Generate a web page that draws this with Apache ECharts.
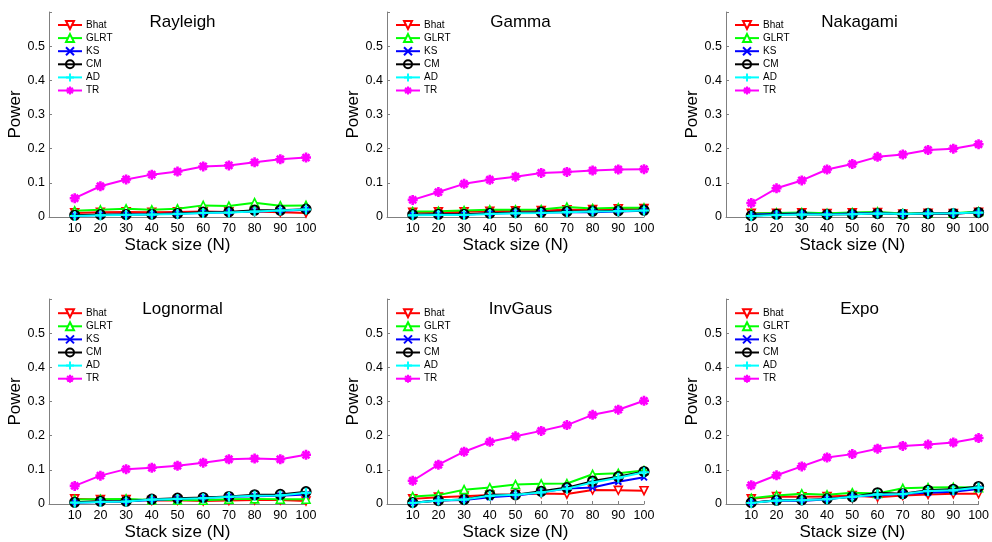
<!DOCTYPE html>
<html>
<head>
<meta charset="utf-8">
<script src="https://cdn.jsdelivr.net/npm/echarts@6/dist/echarts.min.js"></script>
<style>
html,body{margin:0;padding:0;background:#fff;}
#chart{width:992px;height:542px;}
</style>
</head>
<body>
<div id="chart"></div>
<script>
// ---------- data ----------
const stackSizes = [10, 20, 30, 40, 50, 60, 70, 80, 90, 100];
const methodNames = ['Bhat', 'GLRT', 'KS', 'CM', 'AD', 'TR'];
const panelTitles = ['Rayleigh', 'Gamma', 'Nakagami', 'Lognormal', 'InvGaus', 'Expo'];
const yTicks = [0, 0.1, 0.2, 0.3, 0.4, 0.5];
const xTicks = [10, 20, 30, 40, 50, 60, 70, 80, 90, 100];

// Rayleigh
const rayleighBhat = [0.012, 0.014, 0.015, 0.014, 0.015, 0.016, 0.015, 0.016, 0.014, 0.012];
const rayleighGLRT = [0.018, 0.021, 0.024, 0.021, 0.024, 0.034, 0.032, 0.042, 0.033, 0.034];
const rayleighKS   = [0.004, 0.006, 0.007, 0.008, 0.010, 0.012, 0.014, 0.016, 0.018, 0.021];
const rayleighCM   = [0.005, 0.007, 0.007, 0.008, 0.010, 0.014, 0.015, 0.020, 0.020, 0.023];
const rayleighAD   = [0.003, 0.005, 0.006, 0.007, 0.009, 0.012, 0.013, 0.016, 0.019, 0.022];
const rayleighTR   = [0.055, 0.090, 0.110, 0.124, 0.133, 0.148, 0.151, 0.160, 0.169, 0.174];

// Gamma
const gammaBhat = [0.014, 0.015, 0.015, 0.017, 0.018, 0.019, 0.021, 0.022, 0.024, 0.025];
const gammaGLRT = [0.016, 0.017, 0.019, 0.021, 0.021, 0.022, 0.029, 0.025, 0.027, 0.027];
const gammaKS   = [0.006, 0.007, 0.007, 0.010, 0.012, 0.013, 0.014, 0.014, 0.016, 0.018];
const gammaCM   = [0.007, 0.008, 0.008, 0.011, 0.013, 0.014, 0.016, 0.017, 0.018, 0.020];
const gammaAD   = [0.005, 0.006, 0.006, 0.009, 0.011, 0.012, 0.014, 0.016, 0.017, 0.019];
const gammaTR   = [0.050, 0.073, 0.097, 0.109, 0.118, 0.129, 0.132, 0.136, 0.139, 0.140];

// Nakagami
const nakagamiBhat = [0.011, 0.011, 0.012, 0.010, 0.012, 0.013, 0.009, 0.011, 0.010, 0.014];
const nakagamiGLRT = [0.010, 0.012, 0.013, 0.011, 0.013, 0.015, 0.010, 0.012, 0.011, 0.016];
const nakagamiKS   = [0.007, 0.009, 0.010, 0.008, 0.010, 0.011, 0.009, 0.010, 0.010, 0.013];
const nakagamiCM   = [0.004, 0.008, 0.008, 0.007, 0.008, 0.010, 0.008, 0.010, 0.010, 0.013];
const nakagamiAD   = [0.003, 0.006, 0.007, 0.007, 0.008, 0.010, 0.009, 0.010, 0.011, 0.013];
const nakagamiTR   = [0.041, 0.084, 0.107, 0.139, 0.155, 0.176, 0.183, 0.196, 0.200, 0.213];

// Lognormal
const lognormalBhat = [0.015, 0.013, 0.013, 0.010, 0.011, 0.009, 0.010, 0.012, 0.012, 0.009];
const lognormalGLRT = [0.013, 0.014, 0.015, 0.012, 0.012, 0.011, 0.014, 0.015, 0.014, 0.014];
const lognormalKS   = [0.004, 0.006, 0.007, 0.012, 0.015, 0.018, 0.021, 0.023, 0.024, 0.028];
const lognormalCM   = [0.005, 0.008, 0.008, 0.014, 0.017, 0.019, 0.022, 0.027, 0.028, 0.036];
const lognormalAD   = [0.004, 0.006, 0.007, 0.013, 0.015, 0.017, 0.021, 0.024, 0.025, 0.033];
const lognormalTR   = [0.053, 0.083, 0.102, 0.106, 0.112, 0.121, 0.131, 0.133, 0.131, 0.144];

// InvGaus
const invgausBhat = [0.015, 0.020, 0.023, 0.026, 0.028, 0.031, 0.029, 0.041, 0.040, 0.039];
const invgausGLRT = [0.022, 0.026, 0.042, 0.048, 0.057, 0.059, 0.060, 0.087, 0.090, 0.098];
const invgausKS   = [0.004, 0.010, 0.012, 0.020, 0.025, 0.034, 0.045, 0.048, 0.065, 0.078];
const invgausCM   = [0.004, 0.010, 0.013, 0.027, 0.027, 0.037, 0.048, 0.067, 0.080, 0.095];
const invgausAD   = [0.003, 0.010, 0.013, 0.024, 0.027, 0.034, 0.045, 0.063, 0.077, 0.093];
const invgausTR   = [0.068, 0.115, 0.153, 0.182, 0.198, 0.214, 0.231, 0.261, 0.276, 0.302];

// Expo
const expoBhat = [0.015, 0.022, 0.021, 0.022, 0.025, 0.020, 0.025, 0.028, 0.030, 0.030];
const expoGLRT = [0.017, 0.025, 0.030, 0.027, 0.033, 0.031, 0.046, 0.048, 0.049, 0.048];
const expoKS   = [0.004, 0.010, 0.009, 0.014, 0.022, 0.025, 0.030, 0.033, 0.036, 0.044];
const expoCM   = [0.004, 0.011, 0.012, 0.015, 0.021, 0.033, 0.030, 0.040, 0.043, 0.051];
const expoAD   = [0.003, 0.010, 0.011, 0.014, 0.021, 0.028, 0.029, 0.038, 0.040, 0.048];
const expoTR   = [0.055, 0.084, 0.110, 0.136, 0.146, 0.162, 0.170, 0.174, 0.180, 0.193];

const panelData = [
  [rayleighBhat, rayleighGLRT, rayleighKS, rayleighCM, rayleighAD, rayleighTR],
  [gammaBhat, gammaGLRT, gammaKS, gammaCM, gammaAD, gammaTR],
  [nakagamiBhat, nakagamiGLRT, nakagamiKS, nakagamiCM, nakagamiAD, nakagamiTR],
  [lognormalBhat, lognormalGLRT, lognormalKS, lognormalCM, lognormalAD, lognormalTR],
  [invgausBhat, invgausGLRT, invgausKS, invgausCM, invgausAD, invgausTR],
  [expoBhat, expoGLRT, expoKS, expoCM, expoAD, expoTR]
];

// ---------- styles ----------
const FONT = 'Liberation Sans, Arial, Helvetica, sans-serif';
const gridLefts = [49, 387, 726];
const gridTops = [12, 299];
const gridW = 257, gridH = 205;

const styles = [
  { color: '#ff0000', symbol: 'path://M0,0L10,0L5,9Z', size: 8, item: { color: '#fff', borderColor: '#ff0000', borderWidth: 1.6 } },
  { color: '#00ff00', symbol: 'path://M5,0L10,9L0,9Z', size: 8, item: { color: '#fff', borderColor: '#00ff00', borderWidth: 1.6 } },
  { color: '#0000ff', symbol: 'path://M0,0L10,10M10,0L0,10', size: 6, item: { color: 'none', borderColor: '#0000ff', borderWidth: 2 } },
  { color: '#000000', symbol: 'circle', size: 9, item: { color: 'none', borderColor: '#000000', borderWidth: 2.2 } },
  { color: '#00ffff', symbol: 'path://M5,0L5,10M0,5L10,5', size: 10, item: { color: 'none', borderColor: '#00ffff', borderWidth: 2.2 } },
  { color: '#ff00ff', symbol: 'path://M5,0L5,10M0,5L10,5M1.5,1.5L8.5,8.5M8.5,1.5L1.5,8.5', size: 10, item: { color: 'none', borderColor: '#ff00ff', borderWidth: 2.6 } }
];

const grids = [], xAxes = [], yAxes = [], titles = [], legends = [], series = [];

for (let p = 0; p < 6; p++) {
  const col = p % 3, row = Math.floor(p / 3);
  const left = gridLefts[col], top = gridTops[row];
  grids.push({ left: left, top: top, width: gridW, height: gridH, containLabel: false });
  xAxes.push({
    type: 'value', gridIndex: p, min: 0, max: 100, interval: 10,
    name: 'Stack size (N)', nameLocation: 'middle', nameGap: 20,
    nameTextStyle: { fontFamily: FONT, fontSize: 17, color: '#000' },
    axisLine: { show: true, lineStyle: { color: '#808080', width: 1 } },
    axisTick: { show: true, inside: true, length: 3, lineStyle: { color: '#808080' } },
    axisLabel: { fontFamily: FONT, fontSize: 12.5, color: '#000', margin: 5,
      formatter: v => (v === 0 ? '' : String(v)) },
    splitLine: { show: false }
  });
  yAxes.push({
    type: 'value', gridIndex: p, min: 0, max: 0.6, interval: 0.1,
    name: 'Power', nameLocation: 'middle', nameGap: 24,
    nameTextStyle: { fontFamily: FONT, fontSize: 17, color: '#000' },
    axisLine: { show: true, lineStyle: { color: '#808080', width: 1 } },
    axisTick: { show: true, inside: true, length: 3, lineStyle: { color: '#808080' } },
    axisLabel: { fontFamily: FONT, fontSize: 12.5, color: '#000', margin: 4,
      formatter: v => {
        const r = Math.round(v * 10) / 10;
        if (yTicks.indexOf(r) < 0) return '';
        return r === 0 ? '0' : r.toFixed(1);
      } },
    splitLine: { show: false }
  });
  titles.push({
    text: panelTitles[p], left: left + gridW / 2, top: top - 3, textAlign: 'center',
    textStyle: { fontFamily: FONT, fontSize: 17, fontWeight: 'normal', color: '#000' }
  });
  legends.push({
    data: methodNames, orient: 'vertical', left: left + 8, top: top + (row === 0 ? 6.5 : 7.7),
    itemWidth: 24, itemHeight: 10, itemGap: 0.1, padding: 0,
    textStyle: { fontFamily: FONT, fontSize: 10, lineHeight: 13, color: '#000', padding: [0, 0, 0, -1] },
    selectedMode: false
  });
  for (let s = 0; s < 6; s++) {
    const st = styles[s];
    series.push({
      type: 'line', name: methodNames[s], xAxisIndex: p, yAxisIndex: p,
      data: stackSizes.map((x, i) => [x, panelData[p][s][i]]),
      symbol: st.symbol, symbolSize: st.size, showAllSymbol: true,
      lineStyle: { color: st.color, width: 2 },
      itemStyle: st.item,
      animation: false, z: 2 + s, silent: true
    });
  }
}

const chart = echarts.init(document.getElementById('chart'), null, { renderer: 'canvas' });
chart.setOption({
  backgroundColor: '#fff',
  animation: false,
  title: titles, legend: legends, grid: grids, xAxis: xAxes, yAxis: yAxes, series: series
});
</script>
</body>
</html>
